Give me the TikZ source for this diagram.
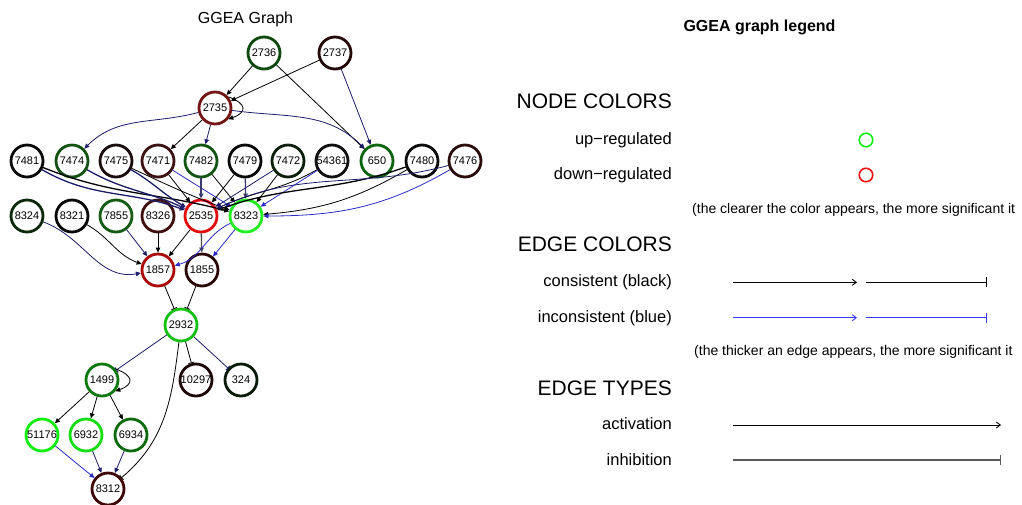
\documentclass[tikz,border=0pt]{standalone}
\usepackage{fontspec}
\setmainfont{Liberation Sans}
\usetikzlibrary{arrows.meta}
\definecolor{navy}{HTML}{1C1C6A}
\definecolor{eblue}{HTML}{2B2BC8}
\definecolor{lblue}{HTML}{3A3AFF}
\definecolor{lgreen}{HTML}{11EE11}
\definecolor{lred}{HTML}{EE1111}
\definecolor{c2736}{HTML}{0E4A0E}
\definecolor{c2737}{HTML}{230808}
\definecolor{c2735}{HTML}{731515}
\definecolor{c7481}{HTML}{0A0A0A}
\definecolor{c7474}{HTML}{145214}
\definecolor{c7475}{HTML}{1A0D0D}
\definecolor{c7471}{HTML}{3D1212}
\definecolor{c7482}{HTML}{135513}
\definecolor{c7479}{HTML}{080808}
\definecolor{c7472}{HTML}{0C200C}
\definecolor{c54361}{HTML}{101010}
\definecolor{c650}{HTML}{0D650D}
\definecolor{c7480}{HTML}{0A0A0A}
\definecolor{c7476}{HTML}{2A0C0C}
\definecolor{c8324}{HTML}{0D2A0D}
\definecolor{c8321}{HTML}{080808}
\definecolor{c7855}{HTML}{155A15}
\definecolor{c8326}{HTML}{3F1010}
\definecolor{c2535}{HTML}{E00E0E}
\definecolor{c8323}{HTML}{22EE22}
\definecolor{c1857}{HTML}{AA0A0A}
\definecolor{c1855}{HTML}{2A0606}
\definecolor{c2932}{HTML}{15C015}
\definecolor{c1499}{HTML}{0D780D}
\definecolor{c10297}{HTML}{1E0808}
\definecolor{c324}{HTML}{0A1A0A}
\definecolor{c51176}{HTML}{10EE10}
\definecolor{c6932}{HTML}{14DD14}
\definecolor{c6934}{HTML}{0D6A0D}
\definecolor{c8312}{HTML}{3E0808}
\newcommand{\lfont}{\fontsize{16.5}{18}\selectfont}
\newcommand{\hfont}{\fontsize{21}{24}\selectfont}
\newcommand{\nfont}{\fontsize{14}{16}\selectfont}
\tikzset{
  gn/.style={circle,draw=#1,fill=white,line width=2.8pt,minimum size=32pt,inner sep=0pt,font=\fontsize{11}{12}\selectfont},
  act/.style={line width=0.8pt,-{Triangle[length=5pt,width=4.5pt]}},
  inh/.style={line width=0.8pt,-{Bar[width=6pt,line width=0.8pt]}},
  thk/.style={line width=1.3pt},
  lab/.style={anchor=base east,inner sep=0pt,font=\lfont},
  head/.style={anchor=base east,inner sep=0pt,font=\hfont},
  note/.style={anchor=base west,inner sep=0pt,font=\nfont},
  lact/.style={line width=0.9pt,-{Straight Barb[length=4pt,width=6pt,line width=0.9pt]}},
  linh/.style={line width=0.9pt,-{Bar[width=10pt,line width=1pt]}},
}
\begin{document}
\begin{tikzpicture}[x=1pt,y=-1pt]
\useasboundingbox (0,0) rectangle (1022,504);
% title
\node[anchor=base,inner sep=0pt,font=\fontsize{16}{18}\selectfont] (gtitle) at (245.5,23.5) {GGEA Graph};
% nodes
\node[gn=c2736] (n2736) at (264,53) {2736};
\node[gn=c2737] (n2737) at (335,53) {2737};
\node[gn=c2735] (n2735) at (215,108) {2735};
\node[gn=c7481] (n7481) at (27,161) {7481};
\node[gn=c7474] (n7474) at (72,161) {7474};
\node[gn=c7475] (n7475) at (116,161) {7475};
\node[gn=c7471] (n7471) at (158,161) {7471};
\node[gn=c7482] (n7482) at (201,161) {7482};
\node[gn=c7479] (n7479) at (245,161) {7479};
\node[gn=c7472] (n7472) at (288,161) {7472};
\node[gn=c54361] (n54361) at (332,161) {54361};
\node[gn=c650] (n650) at (377,161) {650};
\node[gn=c7480] (n7480) at (422,161) {7480};
\node[gn=c7476] (n7476) at (465,161) {7476};
\node[gn=c8324] (n8324) at (27,216) {8324};
\node[gn=c8321] (n8321) at (72,216) {8321};
\node[gn=c7855] (n7855) at (116,216) {7855};
\node[gn=c8326] (n8326) at (158,216) {8326};
\node[gn=c2535] (n2535) at (201,216) {2535};
\node[gn=c8323] (n8323) at (246,216) {8323};
\node[gn=c1857] (n1857) at (158,270) {1857};
\node[gn=c1855] (n1855) at (202,270) {1855};
\node[gn=c2932] (n2932) at (181,325) {2932};
\node[gn=c1499] (n1499) at (102,380) {1499};
\node[gn=c10297] (n10297) at (196,380) {10297};
\node[gn=c324] (n324) at (241,380) {324};
\node[gn=c51176] (n51176) at (42,435) {51176};
\node[gn=c6932] (n6932) at (86,435) {6932};
\node[gn=c6934] (n6934) at (131,435) {6934};
\node[gn=c8312] (n8312) at (108,489) {8312};
% edges top
\draw[act] (n2736) -- (n2735);
\draw[act] (n2737) -- (n2735);
\draw[act] (n2735.40) .. controls +(20:20) and +(-20:20) .. (n2735.-40);
\draw[act] (n2736) -- (n650);
\draw[act,navy] (n2737) -- (n650);
\draw[act,navy] (n2735) to[out=-8,in=135] (n650);
\draw[act,navy] (n2735) to[out=195,in=45] (n7474);
\draw[act] (n2735) -- (n7471);
\draw[act,navy] (n2735) -- (n7482);
% row1 -> 2535 / 8323
\draw[act,navy,thk] (n7481) to[out=-30,in=160] (n2535);
\draw[act,thk] (n7481) to[out=-22,in=165] (n8323);
\draw[act,navy,thk] (n7474) to[out=-30,in=155] (n2535);
\draw[act,navy,thk] (n7475) to[out=-30,in=150] (n2535);
\draw[act] (n7475) to[out=-25,in=160] (n8323);
\draw[act] (n7471) -- (n2535);
\draw[act,eblue] (n7471) -- (n8323);
\draw[act,navy!70!gray,thk] (n7482) -- (n2535);
\draw[act] (n7482) -- (n8323);
\draw[act] (n7479) -- (n2535);
\draw[act,navy!70!gray,thk] (n7479) -- (n8323);
\draw[act,navy] (n7472) -- (n2535);
\draw[act] (n7472) -- (n8323);
\draw[act] (n54361) to[out=-150,in=25] (n2535);
\draw[act,eblue] (n54361) -- (n8323);
\draw[act,thk] (n7480) to[out=-160,in=20] (n2535);
\draw[act] (n7480) to[out=-150,in=5] (n8323);
\draw[act,eblue] (n7476) to[out=-150,in=0] (n8323);
\draw[act,navy] (n7476) to[out=-165,in=25] (n2535);
% row2 -> 1857 / 1855
\draw[act,navy] (n8324) to[out=-20,in=190] (n1857);
\draw[act] (n8321) to[out=-30,in=160] (n1857);
\draw[act,navy] (n7855) -- (n1857);
\draw[act] (n8326) -- (n1857);
\draw[act] (n2535) -- (n1857);
\draw[act,thk,black!70] (n2535) -- (n1855);
\draw[act,eblue] (n8323) to[out=-155,in=15] (n1857);
\draw[act,eblue] (n8323) -- (n1855);
\draw[inh] (n1857) -- (n2932);
\draw[inh] (n1855) -- (n2932);
\draw[inh,navy] (n2932) -- (n1499);
\draw[inh] (n2932) -- (n10297);
\draw[inh,navy] (n2932) -- (n324);
\draw[inh] (n2932) to[out=-97,in=40] (n8312);
\draw[act] (n1499.40) .. controls +(20:20) and +(-20:20) .. (n1499.-40);
\draw[act] (n1499) -- (n51176);
\draw[act] (n1499) -- (n6932);
\draw[act] (n1499) -- (n6934);
\draw[act,eblue] (n51176) -- (n8312);
\draw[act,navy] (n6932) -- (n8312);
\draw[act,navy] (n6934) -- (n8312);
% legend
\node[anchor=base,inner sep=0pt,font=\bfseries\fontsize{16}{18}\selectfont] (ltitle) at (759.5,31) {GGEA graph legend};
\node[head] (hnode) at (672,108.7) {NODE COLORS};
\node[lab] (lup) at (672,144.5) {up−regulated};
\node[lab] (ldown) at (672,179.3) {down−regulated};
\node[circle,draw=lgreen,line width=1.6pt,minimum size=13.5pt,inner sep=0pt] (cup) at (866,140) {};
\node[circle,draw=lred,line width=1.6pt,minimum size=13.5pt,inner sep=0pt] (cdown) at (866,175) {};
\node[note] (note1) at (692,213.5) {(the clearer the color appears, the more significant it};
\node[head] (hedge) at (672,251.7) {EDGE COLORS};
\node[lab] (lcons) at (672,286.7) {consistent (black)};
\node[lab] (lincons) at (672,322.3) {inconsistent (blue)};
\node[note] (note2) at (694,355) {(the thicker an edge appears, the more significant it};
\node[head] (htype) at (672,395) {EDGE TYPES};
\node[lab] (lact) at (672,429) {activation};
\node[lab] (linh) at (672,465) {inhibition};
\coordinate (ca1) at (733,282.3); \coordinate (ca2) at (857,282.3);
\coordinate (ci1) at (866,282.3); \coordinate (ci2) at (987,282.3);
\coordinate (ba1) at (733,317.7); \coordinate (ba2) at (857,317.7);
\coordinate (bi1) at (866,317.7); \coordinate (bi2) at (987,317.7);
\coordinate (ta1) at (733,425); \coordinate (ta2) at (1001,425);
\coordinate (ti1) at (733,460); \coordinate (ti2) at (1001,460);
\draw[lact] (ca1) -- (ca2);
\draw[linh] (ci1) -- (ci2);
\draw[lact,lblue] (ba1) -- (ba2);
\draw[linh,lblue] (bi1) -- (bi2);
\draw[lact] (ta1) -- (ta2);
\draw[linh,black!65,line width=1.3pt] (ti1) -- (ti2);
\end{tikzpicture}
\end{document}
